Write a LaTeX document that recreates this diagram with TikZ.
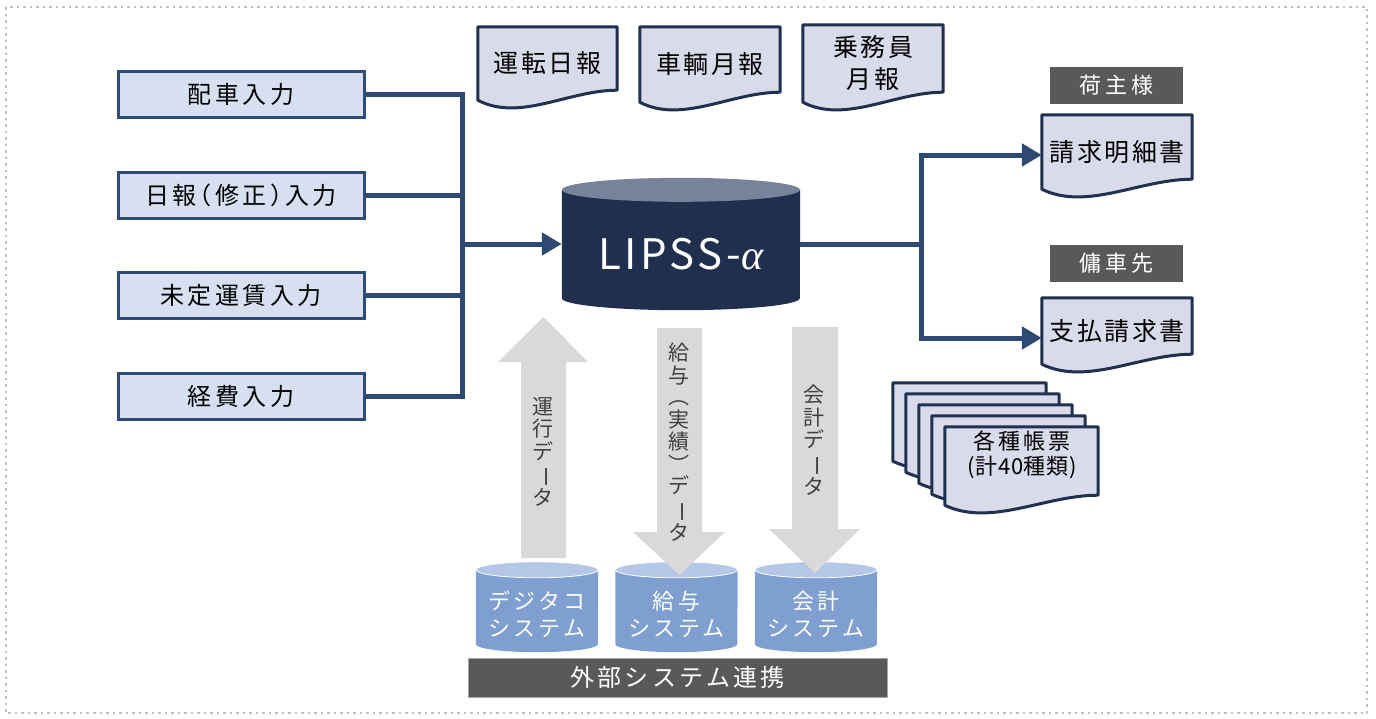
\documentclass[tikz,border=0pt]{standalone}
\usepackage{fontspec}
\usepackage{graphicx}
\setmainfont{Noto Sans CJK JP}
\newfontfamily\alphafont{Liberation Serif}
\usetikzlibrary{arrows.meta,calc}
\pgfdeclarelayer{bg}
\pgfsetlayers{bg,main}
\definecolor{boxfill}{HTML}{D6E0F0}
\definecolor{boxedge}{HTML}{2E4B79}
\definecolor{connblue}{HTML}{2E4A73}
\definecolor{docfill}{HTML}{D9DAEA}
\definecolor{docedge}{HTML}{1F3050}
\definecolor{dbbody}{HTML}{1F2F4D}
\definecolor{dbtop}{HTML}{77839A}
\definecolor{labelgray}{HTML}{595959}
\definecolor{arrgray}{HTML}{D9D9D9}
\definecolor{cylbody}{HTML}{7F9FD0}
\definecolor{cyltop}{HTML}{B4C7E7}
\definecolor{framegray}{HTML}{BFBFBF}
\definecolor{vtext}{HTML}{404040}
\newcommand\lsp[1]{\addfontfeature{LetterSpace=#1}}
\newcommand\vrt[1]{\rotatebox[origin=c]{-90}{#1}}
\newcommand\mydoc[2]{\begin{pgfonlayer}{bg}\draw[docstyle] (#1.north west) -- (#1.north east) -- ($(#1.south east)+(0,-10)$) .. controls +(-0.35*#2,0) and +(0.3*#2,22) .. (#1.south west) -- cycle;\end{pgfonlayer}}
\newcommand\smallcyl[1]{%
  \fill[cylbody] (#1.north west) -- (#1.south west) arc[start angle=180,end angle=360,x radius=61pt,y radius=8pt] -- (#1.north east) -- cycle;
  \filldraw[fill=cyltop, draw=white, line width=0.8pt] (#1.north) ellipse[x radius=61pt,y radius=8pt];}
\tikzset{
  inbox/.style={draw=boxedge, fill=boxfill, line width=3pt, minimum width=246pt, minimum height=46pt, inner sep=0pt, font=\fontsize{24}{28}\selectfont\lsp{14}},
  conn/.style={draw=connblue, line width=5pt},
  tip/.style={-{Triangle[length=20pt,width=22pt]}},
  docstyle/.style={draw=docedge, fill=docfill, line width=3pt, line join=round},
  docbox/.style={inner sep=0pt, align=center, font=\fontsize{25}{32}\selectfont\lsp{10}},
  tag/.style={fill=labelgray, text=white, minimum width=133pt, minimum height=37pt, inner sep=0pt, font=\fontsize{22}{26}\selectfont\lsp{20}},
  vlabel/.style={align=center, inner sep=0pt, text=vtext, font=\fontsize{21}{22.5}\selectfont},
  cylbox/.style={minimum width=122pt, minimum height=74pt, inner sep=0pt},
  cyltext/.style={align=center, inner sep=0pt, text=white, font=\fontsize{22}{27}\selectfont\lsp{14}},
}
\begin{document}
\begin{tikzpicture}[x=1pt,y=-1pt]
\useasboundingbox (0,0) rectangle (1376,718);
\draw[framegray, line width=2.5pt, dash pattern=on 2.5pt off 4pt] (6,7) rectangle (1367,713);

% input boxes
\node[inbox] (in1) at (241,94) {配車入力};
\node[inbox] (in2) at (241,195) {日報\kern-9pt（修正）\kern-9pt入力};
\node[inbox] (in3) at (241,295.5) {未定運賃入力};
\node[inbox] (in4) at (241,396) {経費入力};

% main database
\node[minimum width=238pt, minimum height=108pt, inner sep=0pt] (db) at (681,244) {};
\fill[dbbody] (db.north west) -- (db.south west) arc[start angle=180,end angle=360,x radius=119pt,y radius=12pt] -- (db.north east) -- cycle;
\fill[dbtop] (db.north) ellipse[x radius=119pt, y radius=12pt];
\node[text=white, font=\fontsize{42}{48}\selectfont\lsp{8}] (dblabel) at (681,254) {LIPSS-{\alphafont\itshape α}};

% left connectors
\coordinate (jl) at (462,244);
\draw[conn] (in1.east) -| (jl);
\draw[conn] (in4.east) -| (jl);
\draw[conn] (in2.east) -- (in2.east -| jl);
\draw[conn] (in3.east) -- (in3.east -| jl);
\draw[conn, tip] (jl) -- (db.west);

% top documents
\node[docbox, minimum width=139pt, minimum height=73pt] (nippo) at (547.5,63.5) {運転日報};
\mydoc{nippo}{139}
\node[docbox, minimum width=140pt, minimum height=75pt] (sharyo) at (710,64.5) {車輌月報};
\mydoc{sharyo}{140}
\node[docbox, minimum width=140pt, minimum height=77pt] (jomu) at (873,63.5) {乗務員\\月報};
\mydoc{jomu}{140}

% right side
\node[tag] (shipper) at (1116.5,85.5) {荷主様};
\node[tag] (carrier) at (1116.5,263.5) {傭車先};
\node[docbox, minimum width=150pt, minimum height=74pt] (bill) at (1117,152) {請求明細書};
\mydoc{bill}{150}
\node[docbox, minimum width=150pt, minimum height=66pt] (pay) at (1117,331) {支払請求書};
\mydoc{pay}{150}
\coordinate (jr) at (921,244);
\draw[conn] (db.east) -- (jr);
\draw[conn, tip] (jr) |- ($(bill.west)+(0,3)$);
\draw[conn, tip] (jr) |- ($(pay.west)+(0,7)$);

% stacked documents
\node[minimum width=153pt, minimum height=78pt, inner sep=0pt] (st1) at (969.5,422) {};
\mydoc{st1}{153}
\node[minimum width=153pt, minimum height=78pt, inner sep=0pt] (st2) at (982.5,433) {};
\mydoc{st2}{153}
\node[minimum width=153pt, minimum height=78pt, inner sep=0pt] (st3) at (995.5,444) {};
\mydoc{st3}{153}
\node[minimum width=153pt, minimum height=78pt, inner sep=0pt] (st4) at (1008.5,455) {};
\mydoc{st4}{153}
\node[minimum width=153pt, minimum height=78pt, inner sep=0pt] (st5) at (1021.5,466) {};
\mydoc{st5}{153}
\node[align=center, inner sep=0pt, font=\fontsize{22}{25}\selectfont] (sttext) at (1022,455) {{\lsp{15}各種帳票}\\{\lsp{3}(計40種類)}};

% external systems
\node[cylbox] (cyl1) at (537,607) {};
\smallcyl{cyl1}
\node[cylbox] (cyl2) at (676.5,607) {};
\smallcyl{cyl2}
\node[cylbox] (cyl3) at (816,607) {};
\smallcyl{cyl3}
\node[cyltext] (c1t) at ($(cyl1.center)+(0,7)$) {デジタコ\\システム};
\node[cyltext] (c2t) at ($(cyl2.center)+(0,7)$) {給与\\システム};
\node[cyltext] (c3t) at ($(cyl3.center)+(0,7)$) {会計\\システム};

% block arrows
\fill[arrgray] (521,558) -- (521,362) -- (498,362) -- (543.5,317) -- (588,362) -- (566,362) -- (566,558) -- cycle;
\fill[arrgray] (657,328) -- (702,328) -- (702,532) -- (725,532) -- (679.5,575) -- (633,532) -- (657,532) -- cycle;
\fill[arrgray] (792,327) -- (838,327) -- (838,529) -- (860,529) -- (815,573) -- (769,529) -- (792,529) -- cycle;
\node[vlabel] (lab1) at (543,452) {運\\行\\デ\\\vrt{ー}\\タ};
\node[vlabel] (lab2) at (679,442) {給\\与\\[-1pt]︵\\実\\績\\︶\\[-1pt]デ\\\vrt{ー}\\タ};
\node[vlabel] (lab3) at (814,440) {会\\計\\デ\\\vrt{ー}\\タ};

% bottom bar
\node[fill=labelgray, draw=gray!70, line width=1pt, minimum width=419pt, minimum height=39pt, inner sep=0pt, text=white, font=\fontsize{24}{28}\selectfont\lsp{14}] (ext) at (677.5,677.5) {外部システム連携};
\end{tikzpicture}
\end{document}
